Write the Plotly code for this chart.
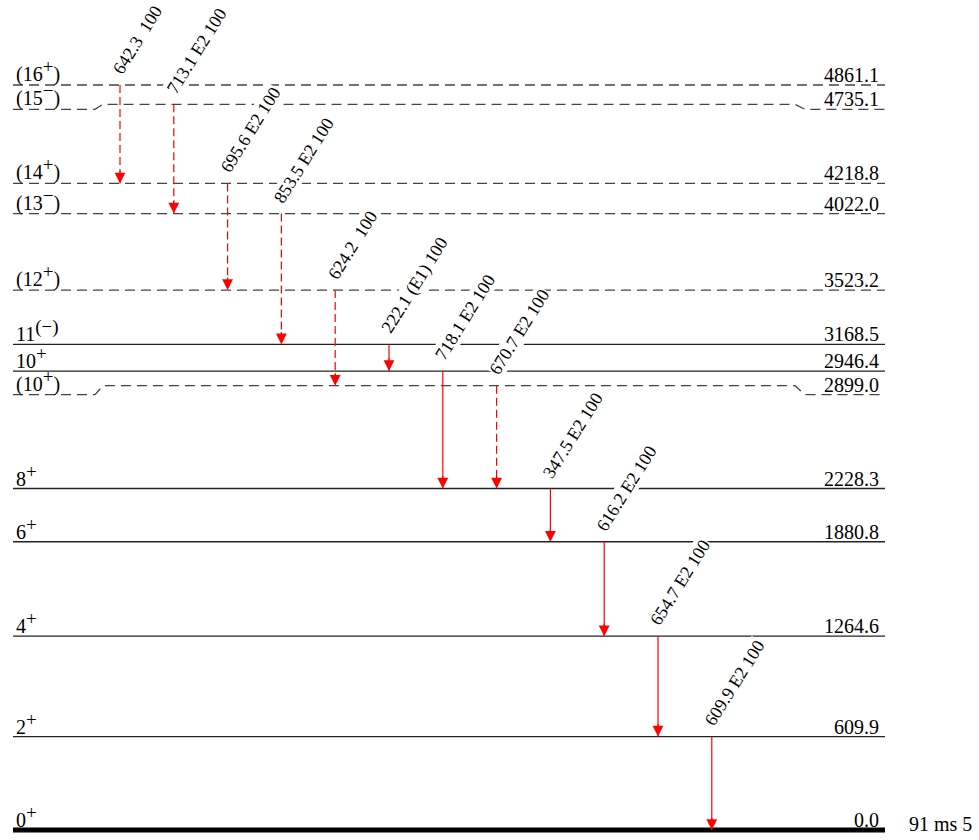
import plotly.graph_objects as go

# ---------------- data ----------------
level_energy = [0.0, 609.9, 1264.6, 1880.8, 2228.3, 2899.0, 2946.4, 3168.5,
                3523.2, 4022.0, 4218.8, 4735.1, 4861.1]
level_spin_base = ["0", "2", "4", "6", "8", "(10", "10", "11", "(12", "(13", "(14",
                   "(15", "(16"]
level_spin_parity = ["+", "+", "+", "+", "+", "+", "+", "(−)", "+", "−", "+", "−", "+"]
level_spin_close = ["", "", "", "", "", ")", "", "", ")", ")", ")", ")", ")"]
level_tentative = [False, False, False, False, False, True, False, False,
                   True, True, True, True, True]
ground_halflife = "91 ms 5"

gamma_energy = [642.3, 713.1, 695.6, 853.5, 624.2, 222.1, 718.1, 670.7,
                347.5, 616.2, 654.7, 609.9]
gamma_from = [4861.1, 4735.1, 4218.8, 4022.0, 3523.2, 3168.5, 2946.4, 2899.0,
              2228.3, 1880.8, 1264.6, 609.9]
gamma_to = [4218.8, 4022.0, 3523.2, 3168.5, 2899.0, 2946.4, 2228.3, 2228.3,
            1880.8, 1264.6, 609.9, 0.0]
gamma_mult = ["", "E2", "E2", "E2", "", "(E1)", "E2", "E2", "E2", "E2", "E2", "E2"]
gamma_intensity = [100, 100, 100, 100, 100, 100, 100, 100, 100, 100, 100, 100]
gamma_tentative = [True, True, True, True, True, False, False, True,
                   False, False, False, False]

# ---------------- layout / drawing constants ----------------
W, H = 979, 840
PX_PER_KEV = 745 / 4861.1
Y0_PX = 830
YMAX = Y0_PX / PX_PER_KEV
YMIN = YMAX - H / PX_PER_KEV
LEVEL_X0, LEVEL_X1 = 13, 885
GAMMA_X0, GAMMA_DX = 120, 53.8
draw_shift_px = {2946.4: 7.4}            # level drawn higher (px)
end_drop_px = {4735.1: 5, 2899.0: 9}      # level ends drawn lower (px)
FONT = "Liberation Serif, Times New Roman, serif"
RED = "#ff0000"
LEVEL_FONT = 20
SUP_FONT = 19
GAMMA_FONT = 18


def e2y(e, up_px=0.0):
    return e + up_px / PX_PER_KEV


def drawn(e):
    return e2y(e, draw_shift_px.get(e, 0.0))


fig = go.Figure()
ann = []

# levels
for e, sb, sp, sc, tent in zip(level_energy, level_spin_base, level_spin_parity,
                               level_spin_close, level_tentative):
    yc = drawn(e)
    drop = end_drop_px.get(e, 0.0)
    ye = e2y(yc, -drop)
    if drop:
        xs = [LEVEL_X0, 95, 103, 795, 805, LEVEL_X1]
        ys = [ye, ye, yc, yc, ye, ye]
    else:
        xs = [LEVEL_X0, LEVEL_X1]
        ys = [yc, yc]
    if e == 0.0:
        line = dict(color="black", width=5)
    elif tent:
        line = dict(color="#444444", width=1.3, dash="10px,6px")
    else:
        line = dict(color="#222222", width=1.3)
    fig.add_trace(go.Scatter(x=xs, y=ys, mode="lines", line=line,
                             hoverinfo="skip", showlegend=False))
    spin = f'{sb}<sup><span style="font-size:{SUP_FONT}px">{sp}</span></sup>{sc}'
    ann.append(dict(x=14, y=ye, text=spin, showarrow=False, xanchor="left",
                    yanchor="bottom", yshift=-3,
                    font=dict(family=FONT, size=LEVEL_FONT, color="black")))
    ann.append(dict(x=881, y=ye, text=f"{e:.1f}", showarrow=False, xanchor="right",
                    yanchor="bottom", yshift=-3,
                    font=dict(family=FONT, size=LEVEL_FONT, color="black")))

ann.append(dict(x=907, y=0.0, text=ground_halflife, showarrow=False, xanchor="left",
                yanchor="middle", yshift=6,
                font=dict(family=FONT, size=LEVEL_FONT, color="black")))

# gammas
for i, (eg, ei, ef, m, inten, tent) in enumerate(zip(gamma_energy, gamma_from, gamma_to,
                                                    gamma_mult, gamma_intensity,
                                                    gamma_tentative)):
    x = GAMMA_X0 + GAMMA_DX * i
    y1, y2 = drawn(ei), drawn(ef)
    fig.add_trace(go.Scatter(x=[x, x], y=[y1, y2], mode="lines",
                             line=dict(color=RED, width=1.2,
                                       dash="8px,4px" if tent else "solid"),
                             hoverinfo="skip", showlegend=False))
    ann.append(dict(x=x, y=y2, ax=0, ay=-14, text="", showarrow=True,
                    arrowhead=2, arrowsize=1.8, arrowwidth=1.2, arrowcolor=RED,
                    standoff=0))
    label = f"{eg:.1f}\u00a0{m}\u00a0{inten}" if m else f"{eg:.1f}\u00a0\u00a0{inten}"
    ann.append(dict(x=x, y=y1, text=label, showarrow=False, textangle=-58,
                    xanchor="left", yanchor="bottom", xshift=-13, yshift=6,
                    bgcolor="white", borderpad=0,
                    font=dict(family=FONT, size=GAMMA_FONT, color="black")))

fig.update_layout(
    width=W, height=H, margin=dict(l=0, r=0, t=0, b=0),
    paper_bgcolor="white", plot_bgcolor="white",
    xaxis=dict(range=[0, W], visible=False, fixedrange=True),
    yaxis=dict(range=[YMIN, YMAX], visible=False, fixedrange=True),
    annotations=ann, showlegend=False,
)
fig.write_html("out.html", config={"displayModeBar": False},
               post_script="document.body.style.margin='0';document.body.style.padding='0';")
